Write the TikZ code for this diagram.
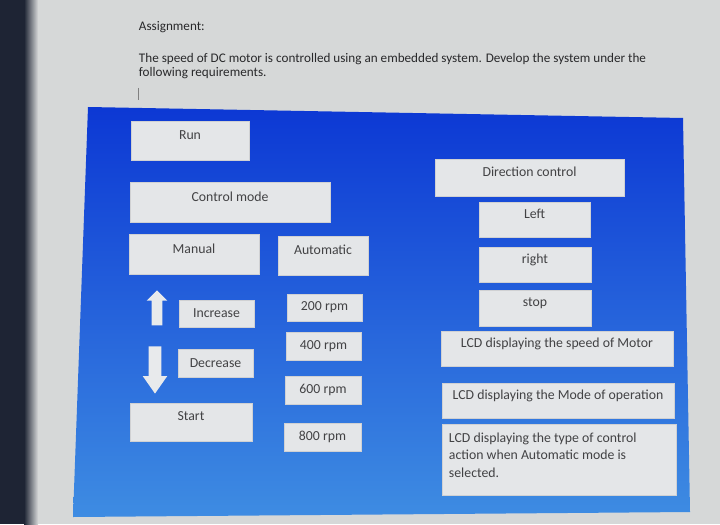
\documentclass[tikz,border=0pt]{standalone}
\usepackage{fontspec}
\setmainfont{Carlito}
\usepackage{tikz}
\usetikzlibrary{positioning, shapes.arrows}

\begin{document}
\begin{tikzpicture}[
    x=0.025cm, y=-0.025cm,
    box/.style={fill=boxC, draw=boxC!80!gray, rectangle, minimum height=0.7cm,
                text centered, font=\fontsize{9.8}{11}\selectfont, text=boxT, inner sep=2pt},
    tall/.style={box, text depth=8pt},
    barrow/.style={single arrow, fill=arrowC, draw=none, inner sep=0pt,
                   single arrow head indent=0pt},
    head/.style={anchor=west, align=left, font=\fontsize{9.35}{9.6}\selectfont, text=headT},
]

% Color definitions
\definecolor{pageC}{RGB}{214,216,216}
\definecolor{darkC}{RGB}{30,36,52}
\definecolor{panelTop}{RGB}{12,56,212}
\definecolor{panelBot}{RGB}{62,140,226}
\definecolor{boxC}{RGB}{228,230,232}
\definecolor{boxT}{RGB}{66,66,68}
\definecolor{arrowC}{RGB}{232,234,236}
\definecolor{headT}{RGB}{40,40,42}

\useasboundingbox (0,0) rectangle (720,524);

% Screen and page
\fill[pageC] (0,0) rectangle (720,524);
\fill[darkC] (0,0) rectangle (24,524);
\shade[left color=darkC, right color=pageC] (24,0) rectangle (38,524);

% Assignment text
\node[head] (title) at (134,27) {Assignment:};
\node[head] (task) at (134,66)
  {The speed of DC motor is controlled using an embedded system. Develop the system under the\\
   following requirements.};
\draw[gray] (138,88) -- (138,100);

% Blue panel
\shade[top color=panelTop, bottom color=panelBot]
  (88,107) -- (683,118) -- (690,512) -- (73,517) -- cycle;

% Left column
\node[tall, minimum width=2.95cm, minimum height=0.98cm] (run) at (190,140.5) {Run};
\node[tall, minimum width=5.0cm, minimum height=1.0cm] (mode) at (230,202) {Control mode};
\node[tall, minimum width=3.25cm, minimum height=1.0cm] (manual) at (194,254) {Manual};
\node[tall, minimum width=2.25cm, minimum height=0.98cm] (auto) at (323,255.5) {Automatic};
\node[box, minimum width=1.88cm, minimum height=0.68cm] (inc) at (216.5,313.5) {Increase};
\node[box, minimum width=1.88cm, minimum height=0.7cm] (dec) at (215.5,363) {Decrease};
\node[tall, minimum width=3.05cm, minimum height=0.95cm] (start) at (191,422) {Start};

% Up / down arrows
\node[barrow, rotate=90, minimum height=0.88cm, minimum width=0.5cm,
      inner xsep=0pt, inner ysep=0.125cm, single arrow head extend=0.125cm] (up) at (157,310.5) {};
\node[barrow, rotate=-90, minimum height=1.18cm, minimum width=0.6cm,
      inner xsep=0pt, inner ysep=0.15cm, single arrow head extend=0.15cm,
      single arrow tip angle=70] (down) at (155,365.5) {};

% Speed settings
\node[box, minimum width=1.88cm, minimum height=0.68cm] (s200) at (324.5,307.5) {200 rpm};
\node[box, minimum width=1.88cm, minimum height=0.7cm] (s400) at (323.5,346) {400 rpm};
\node[box, minimum width=1.9cm, minimum height=0.7cm] (s600) at (323,390) {600 rpm};
\node[box, minimum width=1.93cm, minimum height=0.7cm] (s800) at (322.5,437) {800 rpm};

% Direction control
\node[tall, minimum width=4.72cm, minimum height=0.93cm] (dir) at (529.5,177.5) {Direction control};
\node[tall, minimum width=2.78cm, minimum height=0.88cm] (left) at (534.5,219.5) {Left};
\node[tall, minimum width=2.8cm, minimum height=0.88cm] (right) at (535,264.5) {right};
\node[tall, minimum width=2.8cm, minimum height=0.9cm] (stop) at (535,308) {stop};

% LCD displays
\node[tall, minimum width=5.8cm, minimum height=0.88cm] (lcdspeed) at (557,348.5)
  {LCD displaying the speed of Motor};
\node[tall, minimum width=5.8cm, minimum height=0.88cm] (lcdmode) at (558,400.5)
  {LCD displaying the Mode of operation};
\node[box, minimum width=5.85cm, minimum height=1.78cm, text width=5.5cm, align=flush left,
      font=\fontsize{9.8}{12.4}\selectfont, text depth=31pt] (lcdtype) at (559,459.5)
  {LCD displaying the type of control\\action when Automatic mode is\\selected.};

\end{tikzpicture}
\end{document}
